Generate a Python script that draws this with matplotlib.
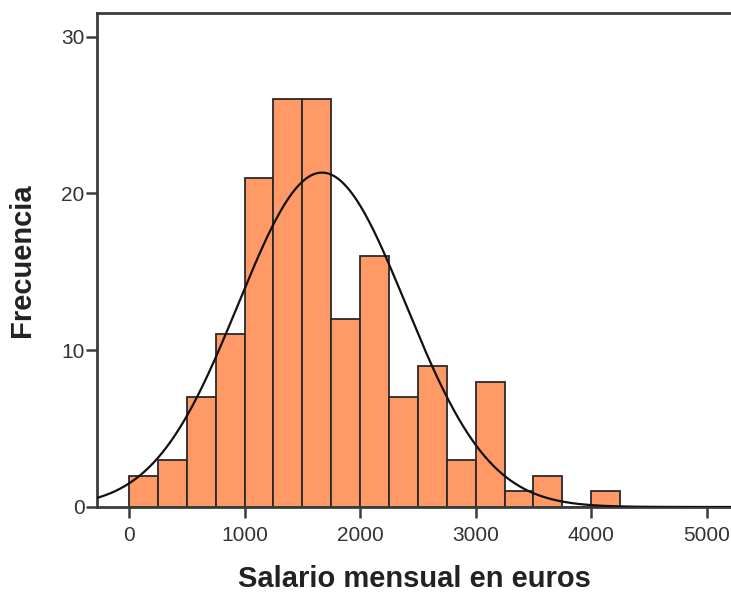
import numpy as np
import matplotlib
matplotlib.use("Agg")
import matplotlib.pyplot as plt

plt.rcParams['font.family'] = ['Liberation Sans', 'DejaVu Sans']

# histogram of monthly salaries, bins of 250 euros starting at 0
bin_width = 250
bin_starts = [0, 250, 500, 750, 1000, 1250, 1500, 1750, 2000, 2250,
              2500, 2750, 3000, 3250, 3500, 3750, 4000]
counts = [2, 3, 7, 11, 21, 26, 26, 12, 16, 7, 9, 3, 8, 1, 2, 0, 1]

# fitted normal curve parameters
media = 1670
desv = 725

x_ticks = [0, 1000, 2000, 3000, 4000, 5000]
y_ticks = [0, 10, 20, 30]

fig = plt.figure(figsize=(7.31, 5.94), dpi=100)
ax = fig.add_axes([97 / 731, 1 - 507 / 594, 1 - 97 / 731, (507 - 13) / 594])

spine_col = '#3c3c3c'
ax.bar(bin_starts, counts, width=bin_width, align='edge',
       color='#FF9966', edgecolor='#2a2a2a', linewidth=1.3, zorder=2)

n = sum(counts)
xs = np.linspace(-300, 5300, 600)
ys = n * bin_width / (desv * np.sqrt(2 * np.pi)) * np.exp(-0.5 * ((xs - media) / desv) ** 2)
ax.plot(xs, ys, color='#111111', lw=1.6, zorder=3)

ax.set_xlim(-277, 5210)
ax.set_ylim(0, 31.5)
ax.set_xticks(x_ticks)
ax.set_yticks(y_ticks)

for side in ['left', 'bottom', 'top']:
    ax.spines[side].set_color(spine_col)
    ax.spines[side].set_linewidth(2)
ax.spines['right'].set_visible(False)

ax.tick_params(axis='both', direction='out', length=8, width=1.8,
               color=spine_col, labelsize=15, labelcolor='#333333')
ax.tick_params(axis='x', pad=6)
ax.tick_params(axis='y', pad=1)

ax.set_xlabel('Salario mensual en euros', fontsize=21, fontweight='bold',
              color='#222222', labelpad=14)
ax.set_ylabel('Frecuencia', fontsize=21, fontweight='bold',
              color='#222222', labelpad=18)

fig.savefig('out.png', dpi=100)
